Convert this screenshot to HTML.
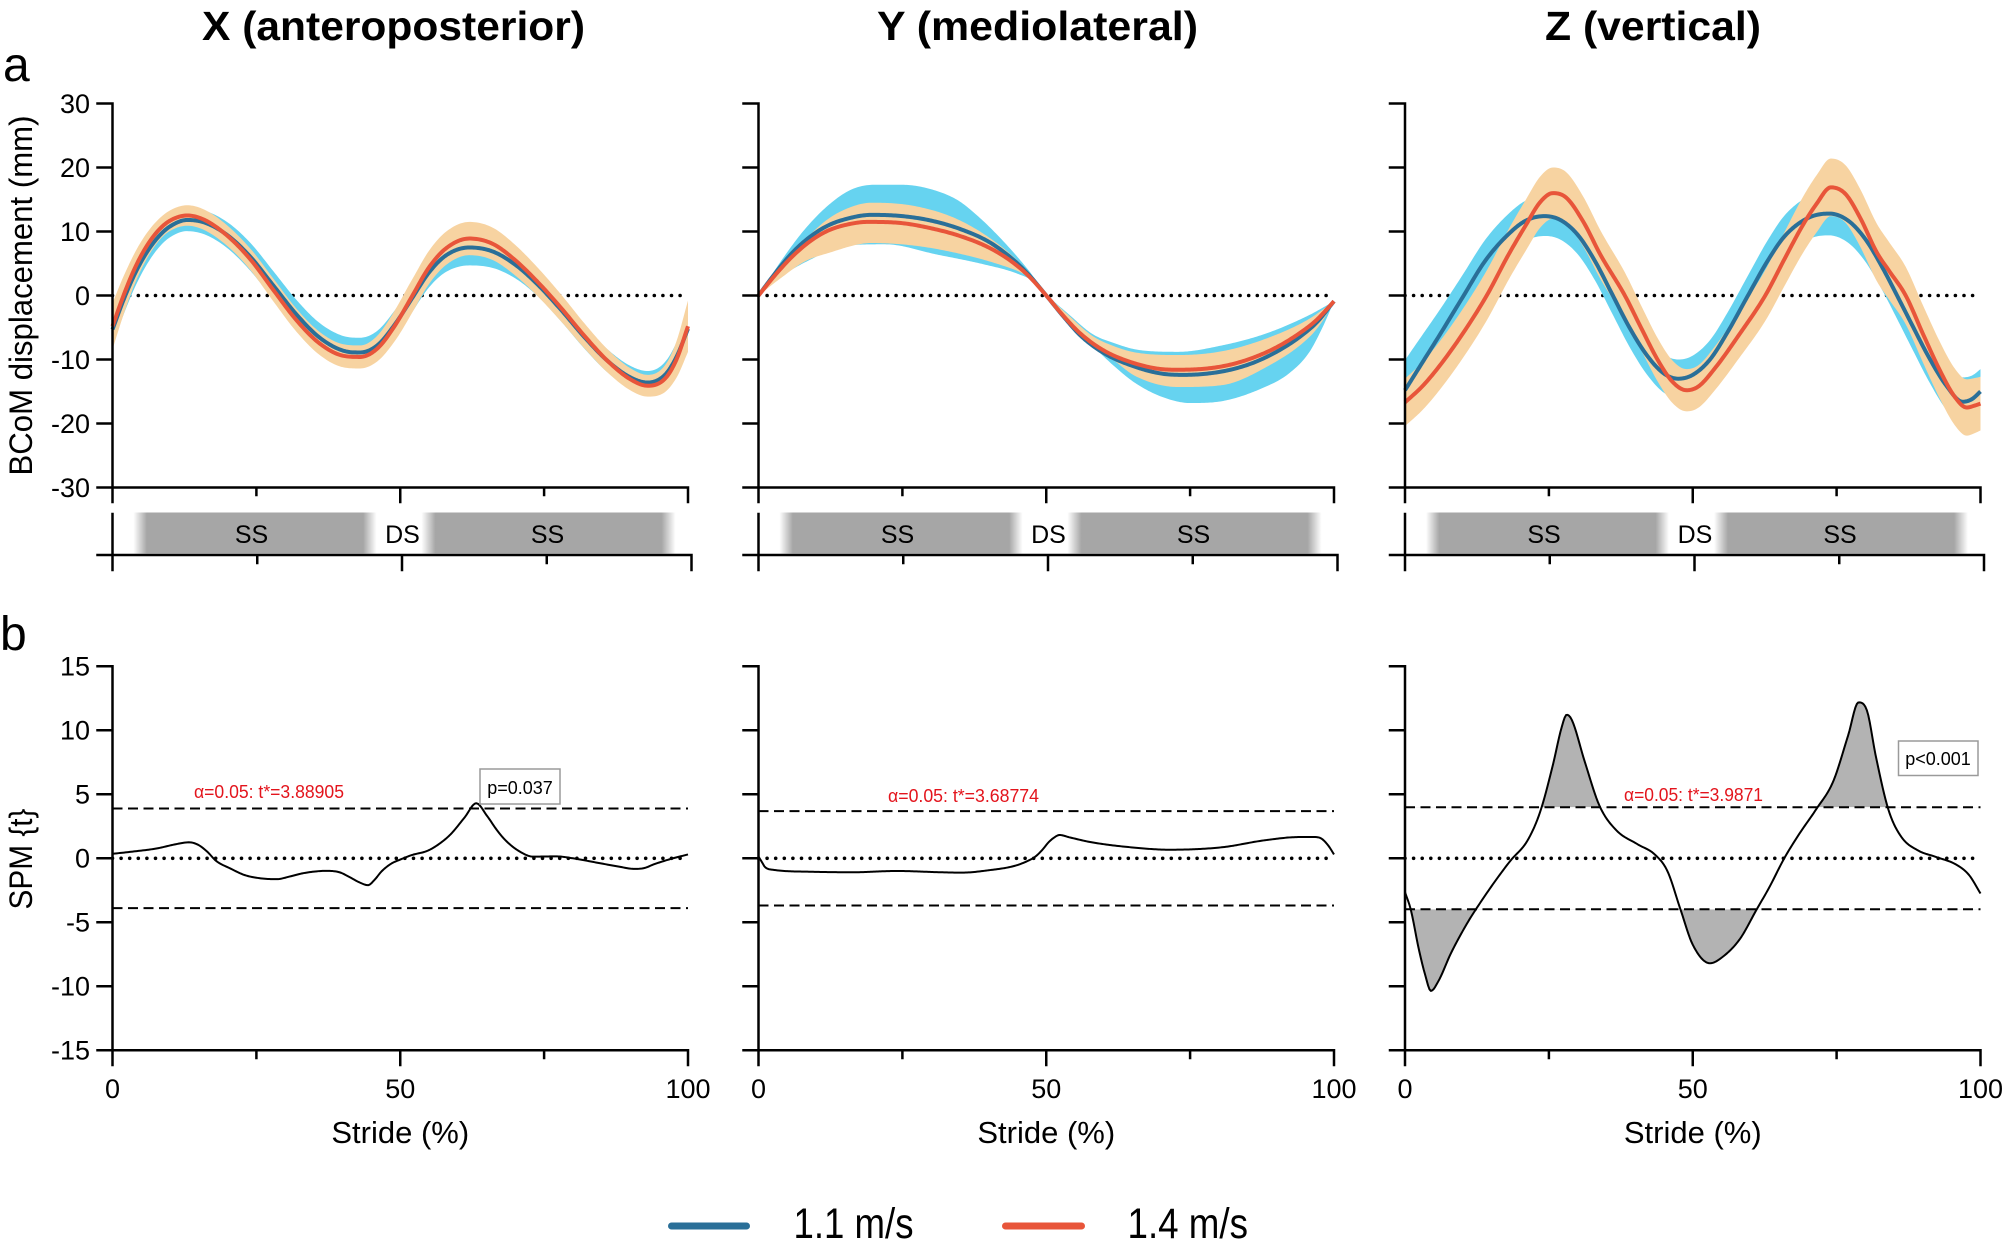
<!DOCTYPE html>
<html><head><meta charset="utf-8">
<style>
html,body{margin:0;padding:0;background:#fff;}
svg{display:block;}
text{font-family:"Liberation Sans",Arial,sans-serif;fill:#000;}
</style></head>
<body>
<svg xmlns="http://www.w3.org/2000/svg" width="2007" height="1244" viewBox="0 0 2007 1244">
<defs>
<linearGradient id="g1" x1="0" x2="1" y1="0" y2="0">
<stop offset="0" stop-color="#a6a6a6" stop-opacity="0"/><stop offset="0.055" stop-color="#a6a6a6"/><stop offset="0.945" stop-color="#a6a6a6"/><stop offset="1" stop-color="#a6a6a6" stop-opacity="0"/>
</linearGradient>
<clipPath id="cu"><rect x="1405" y="600" width="576" height="207.3"/></clipPath>
<clipPath id="cl"><rect x="1405" y="909.3" width="576" height="200"/></clipPath>
</defs>

<text x="202" y="40" font-size="41" font-weight="bold" textLength="383" lengthAdjust="spacingAndGlyphs">X (anteroposterior)</text>
<text x="877" y="40" font-size="41" font-weight="bold" textLength="321" lengthAdjust="spacingAndGlyphs">Y (mediolateral)</text>
<text x="1545" y="40" font-size="41" font-weight="bold" textLength="216" lengthAdjust="spacingAndGlyphs">Z (vertical)</text>
<text x="3" y="81" font-size="48">a</text>
<text x="0" y="650" font-size="48">b</text>

<text transform="translate(32,295.5) rotate(-90)" text-anchor="middle" font-size="32" textLength="360" lengthAdjust="spacingAndGlyphs">BCoM displacement (mm)</text>
<text transform="translate(32,859) rotate(-90)" text-anchor="middle" font-size="32" textLength="101" lengthAdjust="spacingAndGlyphs">SPM {t}</text>

<g stroke="#000" stroke-width="3.6" stroke-dasharray="0 8.6" stroke-linecap="round">
<line x1="112.5" y1="295.5" x2="688" y2="295.5"/>
<line x1="758.5" y1="295.5" x2="1334" y2="295.5"/>
<line x1="1405" y1="295.5" x2="1980.5" y2="295.5"/>
<line x1="112.5" y1="858.3" x2="688" y2="858.3"/>
<line x1="758.5" y1="858.3" x2="1334" y2="858.3"/>
<line x1="1405" y1="858.3" x2="1980.5" y2="858.3"/>
</g>

<g id="topg"></g>

<g stroke="#000" stroke-width="2" stroke-dasharray="10 5.5" fill="none">
<line x1="112.5" y1="808.5" x2="688" y2="808.5"/>
<line x1="112.5" y1="908.1" x2="688" y2="908.1"/>
<line x1="758.5" y1="811.1" x2="1334" y2="811.1"/>
<line x1="758.5" y1="905.5" x2="1334" y2="905.5"/>
<line x1="1405" y1="807.3" x2="1980.5" y2="807.3"/>
<line x1="1405" y1="909.3" x2="1980.5" y2="909.3"/>
</g>

<g id="spmg"></g>

<g fill="url(#g1)">
<rect x="133.5" y="512.5" width="243" height="41"/><rect x="421.5" y="512.5" width="254" height="41"/>
<rect x="779.5" y="512.5" width="243" height="41"/><rect x="1067.5" y="512.5" width="254" height="41"/>
<rect x="1426" y="512.5" width="243" height="41"/><rect x="1714" y="512.5" width="254" height="41"/>
</g>
<g font-size="25" text-anchor="middle">
<text x="251.5" y="543">SS</text><text x="402.5" y="543">DS</text><text x="547.5" y="543">SS</text>
<text x="897.5" y="543">SS</text><text x="1048.5" y="543">DS</text><text x="1193.5" y="543">SS</text>
<text x="1544" y="543">SS</text><text x="1695" y="543">DS</text><text x="1840" y="543">SS</text>
</g>

<g stroke="#000" stroke-width="2.5" fill="none" stroke-linecap="square">
<path d="M112.5,103.5V487.5H688M97.5,103.5H112.5M97.5,167.5H112.5M97.5,231.5H112.5M97.5,295.5H112.5M97.5,359.5H112.5M97.5,423.5H112.5M97.5,487.5H112.5M112.5,487.5V502M256.4,487.5V495M400.25,487.5V502M544.1,487.5V495M688,487.5V502"/>
<path d="M743.5,103.5H758.5M743.5,167.5H758.5M743.5,231.5H758.5M743.5,295.5H758.5M743.5,359.5H758.5M743.5,423.5H758.5M743.5,487.5H758.5M758.5,103.5V487.5H1334M758.5,487.5V502M902.4,487.5V495M1046.25,487.5V502M1190.1,487.5V495M1334,487.5V502"/>
<path d="M1390,103.5H1405M1390,167.5H1405M1390,231.5H1405M1390,295.5H1405M1390,359.5H1405M1390,423.5H1405M1390,487.5H1405M1405,103.5V487.5H1980.5M1405,487.5V502M1548.9,487.5V495M1692.75,487.5V502M1836.6,487.5V495M1980.5,487.5V502"/>
<path d="M112.5,514V570M97.5,555H691.5M257.25,555V563M402,555V570M546.75,555V563M691.5,555V570"/>
<path d="M758.5,514V570M743.5,555H1337.5M903.25,555V563M1048,555V570M1192.75,555V563M1337.5,555V570"/>
<path d="M1405,514V570M1390,555H1984M1549.75,555V563M1694.5,555V570M1839.25,555V563M1984,555V570"/>
<path d="M97.5,666.3H112.5M97.5,730.3H112.5M97.5,794.3H112.5M97.5,858.3H112.5M97.5,922.3H112.5M97.5,986.3H112.5M97.5,1050.3H112.5M112.5,666.3V1050.3H688M112.5,1050.3V1065M256.4,1050.3V1058M400.25,1050.3V1065M544.1,1050.3V1058M688,1050.3V1065"/>
<path d="M743.5,666.3H758.5M743.5,730.3H758.5M743.5,794.3H758.5M743.5,858.3H758.5M743.5,922.3H758.5M743.5,986.3H758.5M743.5,1050.3H758.5M758.5,666.3V1050.3H1334M758.5,1050.3V1065M902.4,1050.3V1058M1046.25,1050.3V1065M1190.1,1050.3V1058M1334,1050.3V1065"/>
<path d="M1390,666.3H1405M1390,730.3H1405M1390,794.3H1405M1390,858.3H1405M1390,922.3H1405M1390,986.3H1405M1390,1050.3H1405M1405,666.3V1050.3H1980.5M1405,1050.3V1065M1548.9,1050.3V1058M1692.75,1050.3V1065M1836.6,1050.3V1058M1980.5,1050.3V1065"/>
</g>

<g font-size="27" text-anchor="end">
<text x="90" y="112.8">30</text><text x="90" y="176.8">20</text><text x="90" y="240.8">10</text><text x="90" y="304.8">0</text><text x="90" y="368.8">-10</text><text x="90" y="432.8">-20</text><text x="90" y="496.8">-30</text>
<text x="90" y="675.6">15</text><text x="90" y="739.6">10</text><text x="90" y="803.6">5</text><text x="90" y="867.6">0</text><text x="90" y="931.6">-5</text><text x="90" y="995.6">-10</text><text x="90" y="1059.6">-15</text>
</g>
<g font-size="27" text-anchor="middle">
<text x="112.5" y="1098">0</text><text x="400.25" y="1098">50</text><text x="688" y="1098">100</text>
<text x="758.5" y="1098">0</text><text x="1046.25" y="1098">50</text><text x="1334" y="1098">100</text>
<text x="1405" y="1098">0</text><text x="1692.75" y="1098">50</text><text x="1980.5" y="1098">100</text>
</g>
<g font-size="31" text-anchor="middle">
<text x="400.25" y="1143">Stride (%)</text>
<text x="1046.25" y="1143">Stride (%)</text>
<text x="1692.75" y="1143">Stride (%)</text>
</g>

<g font-size="18">
<text x="194" y="798" textLength="150" lengthAdjust="spacingAndGlyphs" style="fill:#e3141c">α=0.05: t*=3.88905</text>
<text x="888" y="802" textLength="151" lengthAdjust="spacingAndGlyphs" style="fill:#e3141c">α=0.05: t*=3.68774</text>
<text x="1624" y="801" textLength="139" lengthAdjust="spacingAndGlyphs" style="fill:#e3141c">α=0.05: t*=3.9871</text>
</g>
<rect x="480" y="769" width="80" height="35" fill="#fff" stroke="#9a9a9a" stroke-width="1.5"/>
<text x="520" y="794" font-size="18" text-anchor="middle">p=0.037</text>
<rect x="1898.5" y="741" width="79.5" height="34.5" fill="#fff" stroke="#9a9a9a" stroke-width="1.5"/>
<text x="1938" y="765" font-size="18" text-anchor="middle">p&lt;0.001</text>

<line x1="671.5" y1="1226" x2="746.5" y2="1226" stroke="#2a6f98" stroke-width="7" stroke-linecap="round"/>
<text x="793.5" y="1238" font-size="43" textLength="120" lengthAdjust="spacingAndGlyphs">1.1 m/s</text>
<line x1="1005.5" y1="1226" x2="1081.5" y2="1226" stroke="#e8553a" stroke-width="7" stroke-linecap="round"/>
<text x="1127.5" y="1238" font-size="43" textLength="120.5" lengthAdjust="spacingAndGlyphs">1.4 m/s</text>
</svg>

<script>
(function(){
var W=575.5;
function YT(v){return 295.5-v*6.4;}
function YB(t){return 858.3-t*12.8;}
var XS=[];for(var q=0;q!==401;q++)XS.push(q*0.25);
function mono(pts){
 var xs=pts.map(function(p){return p[0];}),ys=pts.map(function(p){return p[1];}),n=xs.length,d=[],m=new Array(n),i;
 for(i=0;i!==n-1;i++)d.push((ys[i+1]-ys[i])/(xs[i+1]-xs[i]));
 m[0]=d[0];m[n-1]=d[n-2];
 for(i=1;i!==n-1;i++)m[i]=(d[i-1]*d[i]>0)?(d[i-1]+d[i])/2:0;
 for(i=0;i!==n-1;i++){
  if(d[i]===0){m[i]=0;m[i+1]=0;continue;}
  var a=m[i]/d[i],b=m[i+1]/d[i],s=a*a+b*b;
  if(s>9){var tt=3/Math.sqrt(s);m[i]=tt*a*d[i];m[i+1]=tt*b*d[i];}
 }
 return function(x){var k=0;while(k!==n-2&&x>xs[k+1])k++;
  var h=xs[k+1]-xs[k],t=(x-xs[k])/h,t2=t*t,t3=t2*t;
  return (2*t3-3*t2+1)*ys[k]+(t3-2*t2+t)*h*m[k]+(-2*t3+3*t2)*ys[k+1]+(t3-t2)*h*m[k+1];};
}
function line(L,Y,f){return XS.map(function(x,i){return (i?'L':'M')+(L+x*W/100).toFixed(2)+','+Y(f(x)).toFixed(2);}).join('');}
function band(L,Y,fu,fl){var s=line(L,Y,fu);for(var i=XS.length-1;i>=0;i--){var x=XS[i];s+='L'+(L+x*W/100).toFixed(2)+','+Y(fl(x)).toFixed(2);}return s+'Z';}
var tp='',sp='';
var CY='#66d3f0',OR='#f7d3a1',BL='#2a6f98',RD='#e8553a';
function addTop(L,b,r,cu,cl,ou,ol){
 tp+='<path d="'+band(L,YT,cu,cl)+'" fill="'+CY+'"/>';
 tp+='<path d="'+band(L,YT,ou,ol)+'" fill="'+OR+'"/>';
 tp+='<path d="'+line(L,YT,b)+'" fill="none" stroke="'+BL+'" stroke-width="4" stroke-linejoin="round"/>';
 tp+='<path d="'+line(L,YT,r)+'" fill="none" stroke="'+RD+'" stroke-width="4" stroke-linejoin="round"/>';
}
(function(){
 var b=mono([[0,-5.3],[2,-0.5],[4,3.6],[6,6.8],[8,9.2],[10,10.8],[13,11.8],[16,11.4],[20,9.4],[24,6.0],[28,1.5],[32,-3.0],[36,-6.6],[40,-8.6],[43,-8.9],[46,-7.8],[49,-4.6],[52,-0.5],[55,3.6],[58,6.3],[62,7.5],[66,6.9],[70,4.8],[74,1.6],[78,-2.3],[82,-6.5],[86,-10.2],[90,-12.8],[93,-13.6],[96,-12.4],[98,-9.6],[100,-5.2]]);
 var r=mono([[0,-4.8],[2,0.2],[4,4.5],[6,7.8],[8,10.2],[10,11.7],[13,12.5],[16,11.8],[20,9.3],[24,5.6],[28,0.8],[32,-3.9],[36,-7.5],[40,-9.4],[43,-9.6],[46,-8.3],[49,-4.8],[52,-0.2],[55,4.4],[58,7.4],[62,8.9],[66,8.1],[70,5.5],[74,2.0],[78,-2.0],[82,-6.3],[86,-10.2],[90,-13.1],[93,-14.1],[96,-13.0],[98,-10.0],[100,-4.8]]);
 var so=mono([[0,3.6],[4,2.4],[10,1.6],[20,1.6],[30,1.8],[43,1.8],[52,2.6],[62,2.6],[75,2.2],[93,1.7],[97,2.4],[100,4]]);
 var sc=mono([[0,2.5],[10,1.7],[25,2.2],[43,2.3],[52,2.2],[62,2.8],[75,1.8],[93,1.8],[100,2.5]]);
 addTop(112.5,b,r,function(x){return b(x)+sc(x);},function(x){return b(x)-sc(x);},function(x){return r(x)+so(x);},function(x){return r(x)-so(x);});
})();
(function(){
 var b=mono([[0,0],[3,3.6],[6,6.8],[9,9.2],[12,10.9],[15,11.9],[19.6,12.6],[25,12.4],[30,11.7],[35,10.4],[40,8.4],[44,5.8],[47,3.2],[50,0],[53,-3.3],[56,-6.3],[60,-9.0],[65,-11.0],[70,-12.2],[74,-12.4],[78,-12.2],[82,-11.6],[86,-10.5],[90,-8.8],[94,-6.5],[97,-4.2],[100,-0.9]]);
 var r=mono([[0,0],[3,3.3],[6,6.2],[9,8.5],[12,10.1],[15,11.0],[19,11.5],[25,11.3],[30,10.5],[35,9.3],[40,7.5],[44,5.3],[47,3.0],[50,0],[53,-3.2],[56,-6.0],[60,-8.6],[65,-10.5],[70,-11.5],[73,-11.6],[78,-11.4],[82,-10.8],[86,-9.7],[90,-8.1],[94,-5.9],[97,-3.8],[100,-0.9]]);
 var cu=mono([[0,0],[4,5.5],[8,10.3],[12,14.0],[16,16.5],[20,17.3],[25,17.3],[30,16.6],[34.6,14.9],[38,12.5],[42,9.0],[46.7,4.2],[50,0.3],[54,-3],[58,-6],[62,-7.5],[66,-8.5],[73,-8.8],[80,-7.9],[88,-6],[95.6,-3.1],[100,-0.9]]);
 var cl=mono([[0,0],[4,3],[9,5.6],[15,7.8],[22,8.0],[31,6.4],[39,4.9],[45,3.4],[48,2],[50,-0.3],[53,-3.5],[56,-6.0],[58,-7.8],[62,-11.2],[65.5,-13.7],[70,-15.8],[75,-16.8],[80.6,-16.5],[88,-14.3],[92,-12.3],[95.6,-9.0],[98,-5],[100,-0.9]]);
 var ou=mono([[0,0],[4,4.5],[8,8.6],[12,11.9],[16,13.8],[19.6,14.5],[27,14.0],[34.6,11.9],[42,7.8],[46,4.5],[50,0.2],[54,-3.2],[58,-6.3],[62,-8],[65.5,-8.9],[73,-9.3],[80.6,-8.7],[88,-6.8],[95.6,-3.7],[100,-0.9]]);
 var ol=mono([[0,0],[4,2.8],[8,5.3],[12,6.6],[19.6,8.2],[27,7.8],[34.6,6.6],[42,4.8],[46,3.4],[48,2.1],[50,-0.2],[54,-4.2],[58,-7.5],[62,-10.3],[65.5,-12.6],[73,-14.3],[80.6,-14.0],[88,-11.3],[95.6,-6.6],[98,-4],[100,-0.9]]);
 addTop(758.5,b,r,cu,cl,ou,ol);
})();
(function(){
 var b=mono([[0,-14.8],[3,-10.5],[6,-6.2],[10,-0.3],[14,5.5],[18,9.6],[21,11.7],[24.2,12.4],[27,11.8],[30,9.5],[33,5.4],[36,0.2],[39,-5],[42,-9.3],[45,-12.2],[47.5,-13],[50,-12.4],[53,-10],[56,-5.8],[59.6,0],[63,5.4],[66,9.3],[70,12.1],[73.7,12.8],[77,11.7],[80,8.8],[83,4.3],[85.5,0],[88,-4.4],[91,-9.6],[94,-14],[96.9,-16.6],[98.5,-16.2],[100,-15]]);
 var r=mono([[0,-16.7],[3,-14.2],[6,-11],[10,-6],[14.2,0],[18,6.4],[21,11],[23.5,14.6],[25.7,16],[28,15.3],[31,11.5],[34,6.3],[38.2,0],[41,-5],[44,-10.2],[46.5,-13.5],[48.9,-14.8],[51,-14.2],[54,-11.2],[58,-6.2],[62.6,0],[66,5.8],[69,10.8],[71.5,14.3],[74,16.9],[76.5,15.9],[79,12.3],[82,6.7],[84,4],[87,0],[90,-6],[93,-11.8],[95.5,-15.8],[97.6,-17.5],[99,-17.2],[100,-16.9]]);
 var so=mono([[0,3.7],[25.7,4],[49,3.3],[74,4.5],[97.6,4.4],[100,4.2]]);
 var sc=mono([[0,4.7],[10,3.5],[24,3.1],[47.5,3],[73.7,3.4],[97,3.8],[100,3.5]]);
 addTop(1405,b,r,function(x){return b(x)+sc(x);},function(x){return b(x)-sc(x);},function(x){return r(x)+so(x);},function(x){return r(x)-so(x);});
})();
var sx=mono([[0,0.35],[4,0.55],[7.7,0.77],[11,1.1],[13.3,1.25],[14.9,1.05],[16.5,0.5],[18,-0.2],[20.5,-0.8],[22.9,-1.3],[25.5,-1.55],[28.5,-1.63],[31,-1.4],[33.3,-1.15],[37.2,-0.98],[39.5,-1.1],[41.2,-1.47],[43,-1.9],[44.4,-2.1],[45.5,-1.7],[46.8,-1.0],[48.5,-0.4],[50,-0.1],[52,0.25],[54.8,0.6],[57,1.2],[58.8,1.9],[61.2,3.2],[63.2,4.3],[65.1,3.3],[66.8,2.2],[68.3,1.4],[70.5,0.6],[73.1,0.13],[77.1,0.15],[80,0],[84.3,-0.35],[88,-0.65],[90.7,-0.83],[92.5,-0.75],[93.9,-0.5],[97,-0.05],[100,0.3]]);
var sy=mono([[0,0.13],[0.6,-0.3],[1.1,-0.67],[2.6,-0.9],[9,-1.05],[16.5,-1.09],[24,-0.99],[31.6,-1.09],[35.3,-1.12],[40.6,-0.9],[43.5,-0.7],[45.1,-0.51],[46.8,-0.2],[48.1,0.13],[49.3,0.65],[50.4,1.25],[51.3,1.6],[52.3,1.82],[54.1,1.63],[57.9,1.25],[65.4,0.83],[71.4,0.67],[80.5,0.86],[88,1.41],[94,1.66],[96.5,1.66],[97.7,1.57],[99,1.0],[100,0.3]]);
var sz=mono([[0,-2.65],[1,-4.0],[2.4,-7.1],[3.5,-9.1],[4.5,-10.36],[5.8,-9.6],[8,-7.4],[10.9,-5],[12.4,-3.93],[15.4,-1.95],[18.3,-0.2],[21.3,1.4],[23.5,3.65],[25.7,7.3],[27.2,10.2],[28.1,11.22],[29,10.8],[31.2,7.6],[33.8,4.1],[36.7,2.2],[40.4,1.1],[43.4,0.3],[45.6,-1.0],[47.8,-3.9],[50,-6.75],[53,-8.2],[55.2,-7.7],[58.2,-6.3],[61.1,-4.0],[63.3,-2.27],[65.9,0],[68.5,1.9],[71.4,3.8],[74.4,6.0],[77,9.6],[78.8,12.18],[80.3,11.5],[81.8,8.0],[84,3.8],[86.2,1.7],[89.2,0.6],[92.1,0.13],[95.8,-0.5],[98,-1.3],[100,-2.75]]);
var thr=3.9871, L3=1405;
var zl=line(L3,YB,sz);
tp+='<path d="'+zl+'L'+(L3+W)+','+YB(thr)+'L'+L3+','+YB(thr)+'Z" fill="#b3b3b3" fill-rule="evenodd" clip-path="url(#cu)"/>';
tp+='<path d="'+zl+'L'+(L3+W)+','+YB(-thr)+'L'+L3+','+YB(-thr)+'Z" fill="#b3b3b3" fill-rule="evenodd" clip-path="url(#cl)"/>';
sp+='<path d="'+line(112.5,YB,sx)+'" fill="none" stroke="#000" stroke-width="2" stroke-linejoin="round"/>';
sp+='<path d="'+line(758.5,YB,sy)+'" fill="none" stroke="#000" stroke-width="2" stroke-linejoin="round"/>';
sp+='<path d="'+zl+'" fill="none" stroke="#000" stroke-width="2" stroke-linejoin="round"/>';
document.getElementById('topg').innerHTML=tp;
document.getElementById('spmg').innerHTML=sp;
})();
</script>
</body></html>
